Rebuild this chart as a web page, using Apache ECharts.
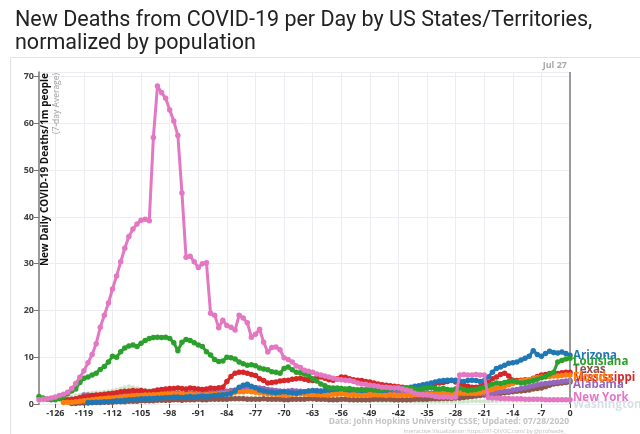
<!DOCTYPE html>
<html><head><meta charset="utf-8">
<script src="https://cdn.jsdelivr.net/npm/echarts@6/dist/echarts.min.js"></script>
<style>html,body{margin:0;padding:0;background:#fff}#c{width:640px;height:434px}</style>
</head><body><div id="c"></div>
<script>
// Day categories: -130 .. 0 (days before Jul 27)
const days = [];
for (let d = -130; d <= 0; d++) days.push(String(d));

const newYork = [
0.9,1.0,1.1,1.3,1.5,1.8,2.1,2.5,3.3,4.4,
5.7,7.1,8.8,10.6,12.9,16.4,19.0,21.6,24.6,27.4,
30.4,33.3,35.8,37.4,38.5,39.3,39.5,39.2,57.0,68.0,
66.6,65.4,62.9,60.5,57.4,45.1,31.4,31.6,30.4,29.2,
30.0,30.2,19.4,19.0,16.3,17.9,16.8,16.4,15.8,19.0,
18.4,17.4,14.3,14.9,16.0,13.2,11.1,12.1,12.2,11.6,
9.9,9.5,9.0,8.1,7.8,7.2,7.0,6.8,6.4,6.2,
6.0,5.8,5.5,5.3,5.2,5.1,5.0,4.8,4.5,4.3,
4.2,4.0,3.9,3.8,3.6,3.6,3.5,3.4,3.4,3.2,
3.0,2.8,2.3,2.1,2.0,1.9,1.8,1.6,1.5,1.5,
1.5,1.4,1.5,6.2,6.3,6.2,6.2,6.3,6.2,6.2,
1.4,1.3,1.3,1.2,1.2,1.2,1.1,1.1,1.1,1.0,
1.0,1.0,1.0,1.0,0.9,0.9,0.9,0.9,0.9,0.9,
0.9];

const louisiana = [
1.6,1.3,1.0,0.9,0.9,1.1,1.6,2.2,2.8,3.2,
4.6,5.5,5.8,6.2,6.6,7.4,8.0,9.0,10.2,10.0,
11.2,12.0,12.4,12.6,12.3,13.0,13.6,14.0,14.2,14.3,
14.2,14.3,14.0,13.1,11.4,13.2,13.8,13.6,13.1,12.6,
12.3,11.2,10.5,9.5,9.1,9.2,10.0,9.9,9.6,9.0,
8.6,8.3,8.4,8.2,7.7,7.5,7.3,6.9,6.8,6.6,
7.6,7.9,7.3,6.8,6.7,6.4,6.1,5.4,4.9,4.3,
3.9,3.5,3.4,3.4,3.3,3.2,3.3,3.1,3.0,3.1,
3.0,3.2,3.0,2.9,3.0,3.2,3.3,3.4,3.5,3.4,
3.3,3.4,3.2,3.1,3.3,3.4,3.5,3.3,3.2,3.3,
3.1,3.0,3.2,3.4,3.1,2.9,3.0,3.1,3.3,3.6,
3.9,4.2,4.5,4.4,4.6,4.8,4.9,4.7,4.5,4.6,
4.8,5.0,5.3,5.6,5.9,6.4,6.8,9.0,9.3,9.6,
9.8];

const mississippi = [
null,null,null,null,null,null,0.8,0.9,1.0,1.1,
1.3,1.5,1.6,1.8,1.9,2.0,2.1,2.2,2.3,2.4,
2.6,2.7,2.8,2.9,2.8,2.9,2.7,2.6,2.8,3.0,
3.1,3.2,3.3,3.3,3.4,3.3,3.2,3.4,3.3,3.2,
3.1,3.2,3.4,3.3,3.5,3.6,4.8,5.9,6.6,6.8,
6.8,6.6,6.3,6.1,5.4,5.0,4.5,4.6,4.7,4.9,
5.0,5.1,5.3,5.4,5.5,5.3,5.1,5.0,5.6,5.8,
5.5,5.2,5.1,5.4,5.8,5.7,5.4,5.2,5.1,5.0,
4.8,4.7,4.5,4.3,4.1,4.0,3.9,3.8,3.7,3.6,
3.4,3.2,3.0,3.3,3.7,4.0,4.2,4.4,4.5,4.6,
4.8,5.1,4.7,4.3,4.0,3.8,3.6,3.6,3.7,4.2,
4.6,5.4,5.8,6.3,6.6,6.0,5.1,5.0,5.1,5.2,
5.1,5.5,5.9,6.2,6.3,6.5,6.6,6.5,6.7,6.8,
6.8];

const arizona = [
null,null,null,null,null,null,null,null,null,null,
null,null,0.3,0.3,0.4,0.4,0.5,0.5,0.6,0.7,
0.7,0.8,0.9,0.9,1.0,1.1,1.1,1.2,1.2,1.3,
1.3,1.4,1.4,1.5,1.5,1.4,1.5,1.6,1.5,1.6,
1.7,1.6,1.7,1.8,1.9,2.0,2.1,2.3,2.8,3.6,
4.0,4.2,3.8,3.5,3.0,2.8,2.6,2.5,2.4,2.5,
2.6,2.5,2.4,2.3,2.5,2.6,2.8,2.9,2.8,2.7,
2.9,3.0,3.1,3.2,3.3,3.1,3.0,3.1,3.0,2.9,
3.0,3.2,3.1,3.0,2.9,3.0,3.2,3.3,3.4,3.3,
3.4,3.6,3.8,3.9,4.1,4.3,4.5,4.7,4.9,5.0,
5.1,5.0,5.1,4.9,4.8,5.0,5.1,5.0,4.8,5.0,
5.8,6.8,7.6,7.9,8.3,8.7,8.8,9.0,9.4,9.8,
10.2,11.4,10.6,10.2,10.8,11.3,11.0,10.9,11.1,10.8,
10.4];

const florida = [
null,null,null,null,null,null,0.3,0.4,0.4,0.5,
0.6,0.7,0.8,0.9,1.0,1.1,1.2,1.3,1.3,1.4,
1.5,1.6,1.6,1.7,1.8,1.8,1.9,1.9,2.0,2.0,
2.1,2.1,2.1,2.2,2.1,2.1,2.0,2.1,2.0,2.0,
1.9,2.0,2.0,2.1,2.2,2.2,2.3,2.4,2.5,2.6,
2.6,2.7,2.6,2.5,2.4,2.3,2.2,2.1,2.1,2.0,
2.0,2.0,2.1,2.1,2.2,2.1,2.1,2.0,2.0,1.9,
1.9,2.0,2.1,2.1,2.2,2.1,2.0,2.0,1.9,1.9,
1.9,2.0,2.0,1.9,1.9,1.8,1.9,1.9,1.8,1.9,
1.9,1.9,2.0,2.0,2.0,2.1,2.1,2.1,2.2,2.2,
2.3,2.3,2.3,2.4,2.3,2.3,2.3,2.3,2.4,2.6,
2.9,3.1,3.4,3.6,3.8,4.1,4.4,4.7,4.9,5.1,
5.2,5.4,5.6,5.8,5.8,5.9,6.0,6.0,6.1,6.2,
6.2];

const alabama = [
null,null,null,null,null,null,null,null,null,0.8,
1.4,1.9,1.9,1.8,1.7,1.6,1.5,1.5,1.6,1.7,
1.8,1.9,2.0,1.9,2.0,2.1,2.1,2.2,2.1,2.2,
2.3,2.2,2.3,2.4,2.3,2.2,2.3,2.4,2.3,2.2,
2.3,2.4,2.5,2.4,2.5,2.6,2.7,2.9,3.0,3.1,
3.3,3.4,3.5,3.5,3.4,3.3,3.1,3.0,2.9,2.8,
2.7,2.8,2.9,2.8,2.7,2.6,2.7,2.8,2.9,2.8,
2.7,2.6,2.5,2.6,2.7,2.8,2.9,2.8,2.7,2.6,
2.7,2.8,2.7,2.6,2.5,2.5,2.4,2.5,2.6,2.5,
2.4,2.4,2.3,2.4,2.5,2.4,2.3,2.4,2.5,2.4,
2.3,2.4,2.3,2.2,2.3,2.4,2.3,2.2,2.3,2.2,
2.3,2.4,2.5,2.6,2.7,2.8,3.0,3.1,3.3,3.5,
3.7,3.9,4.1,4.3,4.4,4.5,4.6,4.7,4.8,4.9,
5.0];

const texas = [
null,null,null,null,null,null,null,null,0.1,0.1,
0.2,0.2,0.2,0.3,0.3,0.3,0.4,0.4,0.4,0.5,
0.5,0.5,0.6,0.6,0.6,0.7,0.7,0.7,0.7,0.8,
0.8,0.8,0.8,0.9,0.9,0.8,0.9,0.9,0.9,1.0,
0.9,0.9,1.0,1.0,1.0,1.0,1.0,1.1,1.1,1.1,
1.1,1.0,1.0,1.0,1.0,1.1,1.0,1.0,1.0,1.0,
0.9,0.9,1.0,1.0,1.0,1.0,1.1,1.1,1.0,1.0,
1.0,0.9,0.9,0.9,1.0,1.0,0.9,0.9,0.9,0.9,
0.9,0.9,1.0,1.0,1.0,1.0,1.0,0.9,0.9,0.9,
0.9,0.9,1.0,1.0,1.0,1.0,1.1,1.1,1.1,1.2,
1.2,1.2,1.3,1.3,1.4,1.5,1.6,1.7,1.8,1.9,
2.0,2.1,2.2,2.3,2.4,2.5,2.6,2.7,2.8,2.9,
3.0,3.2,3.3,3.4,3.7,4.0,4.3,4.4,4.5,4.6,
4.7];

const washington = [
0.6,0.7,0.8,0.9,1.0,1.1,1.3,1.4,1.6,1.8,
2.0,2.2,2.3,2.4,2.5,2.5,2.6,2.7,2.9,3.1,
3.3,3.6,3.8,3.6,3.4,3.2,3.1,3.0,2.9,2.8,
2.7,2.6,2.6,2.5,2.4,2.3,2.2,2.1,2.0,2.0,
1.9,1.9,1.8,1.8,1.7,1.7,1.6,1.6,1.5,1.5,
1.5,1.4,1.4,1.4,1.3,1.3,1.3,1.2,1.2,1.2,
1.1,1.1,1.1,1.0,1.0,1.0,1.0,0.9,0.9,0.9,
0.9,0.9,0.8,0.8,0.8,0.8,0.8,0.7,0.7,0.7,
0.7,0.7,0.7,0.6,0.6,0.6,0.6,0.6,0.6,0.6,
0.6,0.6,0.5,0.5,0.5,0.5,0.5,0.5,0.5,0.5,
0.5,0.5,0.5,0.5,0.5,0.5,0.6,0.6,0.6,0.6,
0.6,0.6,0.6,0.7,0.7,0.7,0.7,0.7,0.7,0.7,
0.7,0.8,0.8,0.8,0.8,0.8,0.8,0.8,0.8,0.8,
0.8];

const yTicks = {min: 0, max: 71, interval: 10};

const defs = [
  {name:'Washington', data:washington, color:'#cde6c8', label:'#d6e0e6', dashed:true, dy:4, faded:true},
  {name:'Texas', data:texas, color:'#8c564b', label:'#8c564b', dy:-12},
  {name:'Alabama', data:alabama, color:'#9467bd', label:'#9467bd', dy:4.5},
  {name:'Mississippi', data:mississippi, color:'#d62728', label:'#d62728', dy:5.5},
  {name:'Florida', data:florida, color:'#ff7f0e', label:'#ff7f0e', dy:2.5},
  {name:'Arizona', data:arizona, color:'#1f77b4', label:'#1f77b4', dy:0},
  {name:'Louisiana', data:louisiana, color:'#2ca02c', label:'#2ca02c', dy:4},
  {name:'New York', data:newYork, color:'#e377c2', label:'#e377c2', dy:-2}
];

const every7 = (idx, val) => Number(val) % 7 === 0;

const series = defs.map((d, i) => {
  const s = {
    name: d.name, type: 'line', data: d.data,
    symbol: 'circle', symbolSize: d.faded ? 4 : 5.5, showAllSymbol: true,
    connectNulls: false, z: 2 + i,
    lineStyle: {color: d.color, width: d.faded ? 1.5 : 3, type: d.dashed ? 'dashed' : 'solid'},
    itemStyle: {color: d.color},
    emphasis: {disabled: true},
    endLabel: {
      show: true, formatter: '{a}', color: d.label,
      fontFamily: 'Open Sans', fontWeight: 'bold', fontSize: 11.5,
      distance: 3, offset: [0, d.dy]
    }
  };
  if (d.name === 'New York') {
    s.markLine = {
      silent: true, symbol: ['none', 'none'],
      label: {show: false},
      lineStyle: {color: '#9a9a9a', width: 2, type: 'solid'},
      data: [{xAxis: '0'}]
    };
  }
  return s;
});

const chart = echarts.init(document.getElementById('c'), null, {renderer: 'canvas'});
chart.setOption({
  animation: false,
  backgroundColor: '#ffffff',
  title: {
    text: 'New Deaths from COVID-19 per Day by US States/Territories,\nnormalized by population',
    left: 10, top: 4,
    textStyle: {fontFamily: 'Roboto', fontSize: 21.5, fontWeight: 'normal', color: '#222', lineHeight: 23}
  },
  grid: {left: 39, right: 70, top: 72, bottom: 30},
  xAxis: {
    type: 'category', data: days, boundaryGap: false,
    axisLine: {show: false},
    axisTick: {show: true, interval: every7, length: 4, lineStyle: {color: '#555'}},
    axisLabel: {interval: every7, fontFamily: 'Open Sans', fontWeight: 'bold', fontSize: 9, color: '#333', margin: 5},
    splitLine: {show: true, interval: every7, lineStyle: {color: '#ececf3'}}
  },
  yAxis: {
    type: 'value', min: yTicks.min, max: yTicks.max, interval: yTicks.interval,
    axisLine: {show: true, lineStyle: {color: '#777', width: 1.5}},
    axisTick: {show: true, length: 5, lineStyle: {color: '#777'}},
    axisLabel: {fontFamily: 'Open Sans', fontWeight: 'bold', fontSize: 9, color: '#444', margin: 5, showMaxLabel: false},
    splitLine: {show: true, lineStyle: {color: '#ececf3'}}
  },
  graphic: [
    {type: 'rect', shape: {x: 10.5, y: 57.5, width: 640, height: 400}, style: {fill: 'none', stroke: '#e2e2e2', lineWidth: 1}, z: -10, silent: true},
    {type: 'text', x: 45, y: 73, rotation: Math.PI / 2, z: 50,
     style: {text: 'New Daily COVID-19 Deaths/1m people', fill: '#111', fontFamily: 'Open Sans', fontWeight: 'bold', fontSize: 10, textAlign: 'right', textVerticalAlign: 'middle'}},
    {type: 'text', x: 57, y: 73, rotation: Math.PI / 2, z: 50,
     style: {text: '(7-day Average)', fill: '#a0a0a0', fontFamily: 'Open Sans', fontSize: 8.5, textAlign: 'right', textVerticalAlign: 'middle'}},
    {type: 'text', x: 567, y: 65, z: 50,
     style: {text: 'Jul 27', fill: '#aaa', fontFamily: 'Open Sans', fontWeight: 'bold', fontSize: 9, textAlign: 'right', textVerticalAlign: 'middle'}},
    {type: 'text', x: 569, y: 422, z: 50,
     style: {text: 'Data: John Hopkins University CSSE; Updated: 07/28/2020', fill: '#c4c4c4', fontFamily: 'Open Sans', fontWeight: 'bold', fontSize: 8.5, textAlign: 'right', textVerticalAlign: 'middle'}},
    {type: 'text', x: 566, y: 431, z: 50,
     style: {text: 'Interactive Visualization: https://91-DIVOC.com/ by @profwade_', fill: '#bdbdbd', fontFamily: 'Open Sans', fontSize: 5.5, textAlign: 'right', textVerticalAlign: 'middle'}}
  ],
  series: series
});
</script></body></html>
